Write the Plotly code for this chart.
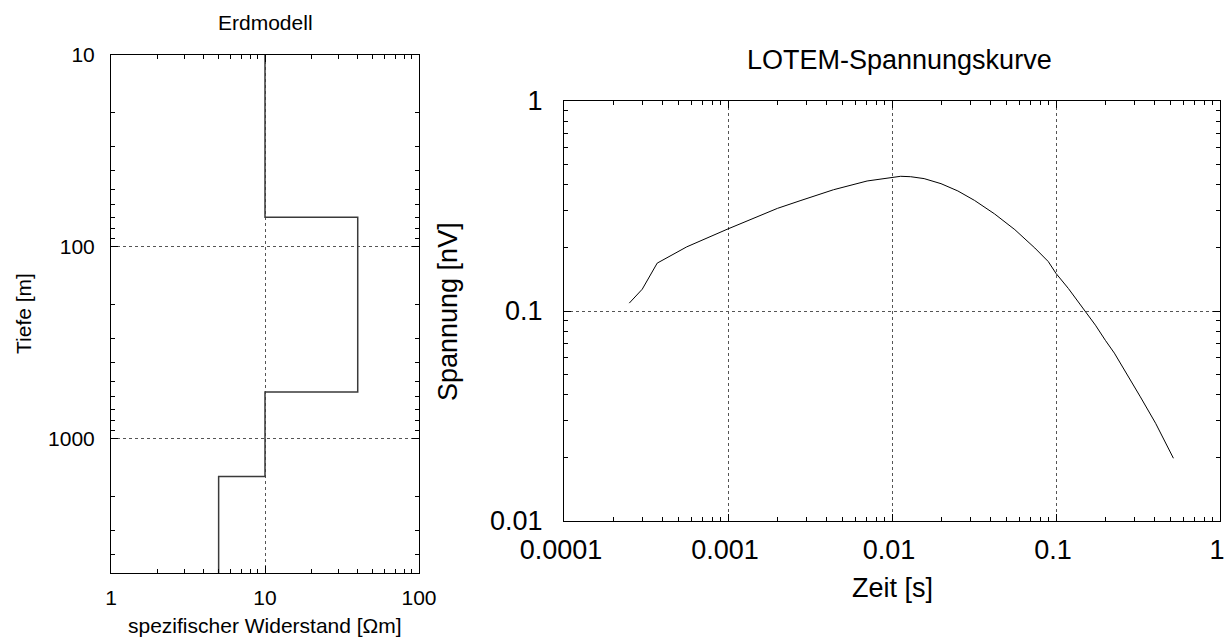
import plotly.graph_objects as go
import math

# ---- data ----
layer_tops = [10, 70, 570, 1570]      # m
resistivity = [10, 40, 10, 5]         # Ohm m
model_bottom = 5000

zeit = [2.5e-4, 3.0e-4, 3.7e-4, 5.6e-4, 1.0e-3, 2.0e-3, 2.75e-3, 4.4e-3, 7.05e-3,
        0.0113, 0.013, 0.0157, 0.0199, 0.0252, 0.0319, 0.0422, 0.0561, 0.0743,
        0.0897, 0.1, 0.119, 0.151, 0.174, 0.2, 0.227, 0.327, 0.405, 0.52]
spannung = [0.109, 0.127, 0.169, 0.202, 0.246, 0.308, 0.335, 0.378, 0.416,
            0.438, 0.436, 0.427, 0.404, 0.373, 0.336, 0.290, 0.244, 0.1995,
            0.172, 0.151, 0.128, 0.099, 0.0856, 0.0725, 0.063, 0.039, 0.0292, 0.0199]

left_x_ticks = [1, 10, 100]
left_x_labels = ["1", "10", "100"]
left_y_ticks = [10, 100, 1000]
left_y_labels = ["10", "100", "1000"]
right_x_ticks = [0.0001, 0.001, 0.01, 0.1, 1]
right_x_labels = ["0.0001", "0.001", "0.01", "0.1", "1"]
right_y_ticks = [0.01, 0.1, 1]
right_y_labels = ["0.01", "0.1", "1"]

W, H = 1224, 637
FONT = "Liberation Sans, Arial, sans-serif"
FS_L, FS_R = 21, 27

fig = go.Figure()
fig.add_trace(go.Scatter(
    x=resistivity + [resistivity[-1]], y=layer_tops + [model_bottom],
    mode="lines", line=dict(color="#3a3a3a", width=1.5, shape="vh"),
    xaxis="x", yaxis="y", showlegend=False, hoverinfo="skip"))
fig.add_trace(go.Scatter(
    x=zeit, y=spannung, mode="lines", line=dict(color="black", width=1),
    xaxis="x2", yaxis="y2", showlegend=False))

def ax(domain, rng, tv, tt, size, anchor, **kw):
    d = dict(type="log", domain=domain, range=rng, tickvals=tv, ticktext=tt,
             ticks="inside", ticklen=7, tickwidth=1, tickcolor="black",
             showline=True, linecolor="black", linewidth=1, mirror="ticks",
             showgrid=True, gridcolor="#555", griddash="dot", gridwidth=1,
             zeroline=False, anchor=anchor, automargin=False,
             ticklabeloverflow="allow",
             tickfont=dict(family=FONT, size=size, color="black"),
             minor=dict(ticks="inside", ticklen=4, tickcolor="black", dtick="D1",
                        showgrid=False))
    d.update(kw)
    return d

lx0, lx1, ly0, ly1 = 111, 419, 55, 573
rx0, rx1, ry0, ry1 = 564, 1220, 101, 521

fig.update_layout(
    width=W, height=H, margin=dict(l=0, r=0, t=0, b=0, autoexpand=False),
    paper_bgcolor="white", plot_bgcolor="white", showlegend=False,
    font=dict(family=FONT, color="black"),
    xaxis=ax([lx0 / W, lx1 / W], [0, 2], left_x_ticks, left_x_labels, FS_L, "y",
             ticklabelstandoff=6),
    yaxis=ax([1 - ly1 / H, 1 - ly0 / H], [math.log10(model_bottom), 1],
             left_y_ticks, left_y_labels, FS_L, "x", ticklabelstandoff=11),
    xaxis2=ax([rx0 / W, rx1 / W], [-4, 0], right_x_ticks, right_x_labels, FS_R, "y2",
              ticklabelstandoff=5, ticklabelshift=-3),
    yaxis2=ax([1 - ry1 / H, 1 - ry0 / H], [-2, 0], right_y_ticks, right_y_labels, FS_R, "x2",
              ticklabelstandoff=15),
)

def ann(text, x, y, size, angle=0):
    fig.add_annotation(text=text, x=x / W, y=1 - y / H, xref="paper", yref="paper",
                       showarrow=False, textangle=angle, xanchor="center", yanchor="middle",
                       font=dict(family=FONT, size=size, color="black"))

ann("Erdmodell", 265, 22, FS_L)
ann("Tiefe [m]", 23, 314, FS_L, -90)
ann("spezifischer Widerstand [Ωm]", 265, 625, FS_L)
ann("LOTEM-Spannungskurve", 899, 60, FS_R)
ann("Spannung [nV]", 448, 311, FS_R, -90)
ann("Zeit [s]", 892, 588, FS_R)

fig.write_html("out.html", config={"displayModeBar": False},
               post_script="document.body.style.margin='0';document.body.style.overflow='hidden';")
